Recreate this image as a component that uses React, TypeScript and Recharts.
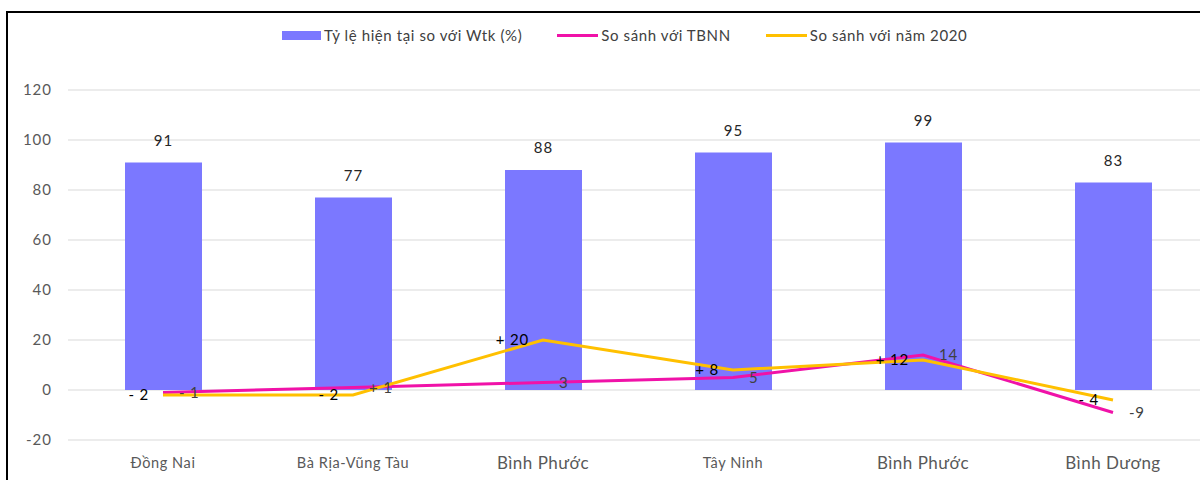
import React from 'react';
import { ComposedChart, Bar, Line, XAxis, YAxis, CartesianGrid, LabelList } from 'recharts';

const categories = ['Đồng Nai', 'Bà Rịa-Vũng Tàu', 'Bình Phước', 'Tây Ninh', 'Bình Phước', 'Bình Dương'];
const ratioWtk = [91, 77, 88, 95, 99, 83];
const vsTBNN = [-1, 1, 3, 5, 14, -9];
const vs2020 = [-2, -2, 20, 8, 12, -4];
const tbnnLabels = ['- 1', '+ 1', '3', '5', '14', '-9'];
const y2020Labels = ['- 2', '- 2', '+ 20', '+ 8', '+ 12', '- 4'];
const yTicks = [-20, 0, 20, 40, 60, 80, 100, 120];
const seriesNames = ['Tỷ lệ hiện tại so với Wtk (%)', 'So sánh với TBNN', 'So sánh với năm 2020'];

const data = categories.map((c, i) => ({
  idx: i,
  name: c,
  ratio: ratioWtk[i],
  tbnn: vsTBNN[i],
  y2020: vs2020[i],
}));

const FONT = 'Lato, "Liberation Sans", sans-serif';
const BAR = '#7B78FF';
const MAGENTA = '#F012A8';
const GOLD = '#FFC000';
const bigTicks = [2, 4, 5];

const XTick = (props: any) => {
  const { x, y, payload } = props;
  const i = Number(payload.value);
  const big = bigTicks.includes(i);
  return (
    <text
      x={x}
      y={y}
      dy={big ? 6 : 5}
      textAnchor="middle"
      fill="#595959"
      fontFamily={FONT}
      fontSize={big ? 17 : 14.5}
      letterSpacing={big ? 0.5 : 0.6}
    >
      {categories[i]}
    </text>
  );
};

const LegendBlock = () => (
  <div
    style={{
      position: 'absolute',
      left: 282,
      top: 25,
      display: 'flex',
      alignItems: 'center',
      fontFamily: FONT,
      fontSize: 15,
      letterSpacing: 0.6,
      color: '#404040',
      whiteSpace: 'nowrap',
      lineHeight: '20px',
    }}
  >
    <span style={{ display: 'inline-block', width: 39, height: 9, background: BAR, marginRight: 3 }} />
    <span style={{ marginRight: 35 }}>{seriesNames[0]}</span>
    <span style={{ display: 'inline-block', width: 41, height: 3, background: MAGENTA, marginRight: 3 }} />
    <span style={{ marginRight: 35 }}>{seriesNames[1]}</span>
    <span style={{ display: 'inline-block', width: 41, height: 3, background: GOLD, marginRight: 3 }} />
    <span>{seriesNames[2]}</span>
  </div>
);

export default function App() {
  return (
    <div style={{ position: 'fixed', left: 0, top: 0, width: 1200, height: 480, overflow: 'hidden', background: '#fff' }}>
      <div style={{ position: 'absolute', left: 0, top: 0 }}>
        <ComposedChart
          width={1216}
          height={500}
          data={data}
          margin={{ top: 90, right: 8, bottom: 30, left: 8 }}
          barCategoryGap={0}
        >
          <CartesianGrid vertical={false} stroke="#D9D9D9" strokeWidth={1.2} />
          <XAxis
            dataKey="idx"
            type="category"
            axisLine={false}
            tickLine={false}
            tickMargin={17}
            height={30}
            tick={<XTick />}
            interval={0}
          />
          <YAxis
            domain={[-20, 120]}
            ticks={yTicks}
            axisLine={false}
            tickLine={false}
            tickMargin={10}
            width={60}
            tick={{ fill: '#595959', fontSize: 15, fontFamily: FONT, letterSpacing: 1 }}
            interval={0}
          />
          <Bar dataKey="ratio" name={seriesNames[0]} fill={BAR} barSize={77} isAnimationActive={false}>
            <LabelList
              dataKey="ratio"
              position="top"
              offset={17}
              fill="#262626"
              fontSize={15}
              fontFamily={FONT}
              letterSpacing={1}
            />
          </Bar>
          <Line
            dataKey="tbnn"
            name={seriesNames[1]}
            stroke={MAGENTA}
            strokeWidth={3}
            dot={false}
            isAnimationActive={false}
            label={(p: any) => (
              <text
                key={`t${p.index}`}
                x={p.x + 16}
                y={p.y}
                dy={5}
                textAnchor="start"
                fill="#404040"
                fontSize={15}
                fontFamily={FONT}
                letterSpacing={0.8}
              >
                {tbnnLabels[p.index]}
              </text>
            )}
          />
          <Line
            dataKey="y2020"
            name={seriesNames[2]}
            stroke={GOLD}
            strokeWidth={3}
            dot={false}
            isAnimationActive={false}
            label={(p: any) => (
              <text
                key={`o${p.index}`}
                x={p.x - 14}
                y={p.y}
                dy={5}
                textAnchor="end"
                fill="#000"
                fontSize={15}
                fontFamily={FONT}
                letterSpacing={0.8}
              >
                {y2020Labels[p.index]}
              </text>
            )}
          />
        </ComposedChart>
      </div>
      <LegendBlock />
      <div style={{ position: 'absolute', left: 6, top: 11, width: 1200, height: 2, background: '#000' }} />
      <div style={{ position: 'absolute', left: 6, top: 11, width: 2, height: 480, background: '#000' }} />
    </div>
  );
}
